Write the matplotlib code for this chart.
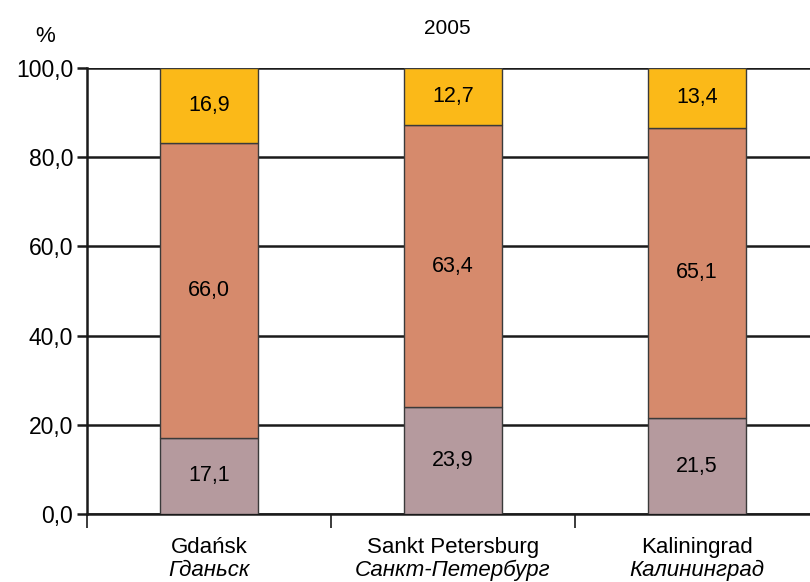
import matplotlib
matplotlib.use("Agg")
import matplotlib.pyplot as plt
import numpy as np

plt.rcParams['font.family'] = ['Liberation Sans', 'DejaVu Sans']

categories_en = ["Gdańsk", "Sankt Petersburg", "Kaliningrad"]
categories_ru = ["Гданьск", "Санкт-Петербург", "Калининград"]
bottom_vals = [17.1, 23.9, 21.5]
middle_vals = [66.0, 63.4, 65.1]
top_vals = [16.9, 12.7, 13.4]
yticks = [0, 20, 40, 60, 80, 100]
title = "2005"

colors = ["#B59A9E", "#D68A6C", "#FBB918"]

fig = plt.figure(figsize=(8.1, 5.82), dpi=100)
ax = fig.add_axes([87/810, 68/582, 732/810, 446/582])

x = np.arange(len(categories_en))
series = [bottom_vals, middle_vals, top_vals]
base = np.zeros(len(x))
for vals, c in zip(series, colors):
    vals = np.array(vals)
    ax.bar(x, vals, width=0.4, bottom=base, color=c, edgecolor="#3a3a3a",
           linewidth=1.0, zorder=3)
    for xi, b, v in zip(x, base, vals):
        ax.text(xi, b + v/2, f"{v:.1f}".replace(".", ","), ha="center", va="center",
                fontsize=15.5, zorder=4)
    base = base + vals

ax.set_xlim(-0.5, 2.5)
ax.set_ylim(0, 100)
ax.set_yticks(yticks)
ax.set_yticklabels([f"{v:.1f}".replace(".", ",") for v in yticks], fontsize=16.5)
ax.yaxis.grid(True, color="#1a1a1a", linewidth=1.8, zorder=0)
ax.set_axisbelow(True)
ax.tick_params(axis="y", length=7, width=1.8, color="#1a1a1a", pad=3)

ax.set_xticks([-0.5, 0.5, 1.5, 2.5])
ax.set_xticklabels([])
ax.tick_params(axis="x", length=10, width=1.2, color="#1a1a1a")
for xi, en, ru in zip(x, categories_en, categories_ru):
    ax.text(xi, -7.6, en, ha="center", va="center", fontsize=16)
    ax.text(xi, -12.6, ru, ha="center", va="center", fontsize=16, style="italic")

for s in ["top", "right"]:
    ax.spines[s].set_visible(False)
for s in ["left", "bottom"]:
    ax.spines[s].set_linewidth(1.8)
    ax.spines[s].set_color("#1a1a1a")

fig.text(447/810, 1 - 28/582, title, ha="center", va="center", fontsize=15)
fig.text(45/810, 1 - 37/582, "%", ha="center", va="center", fontsize=16)

fig.savefig("out.png", dpi=100)
